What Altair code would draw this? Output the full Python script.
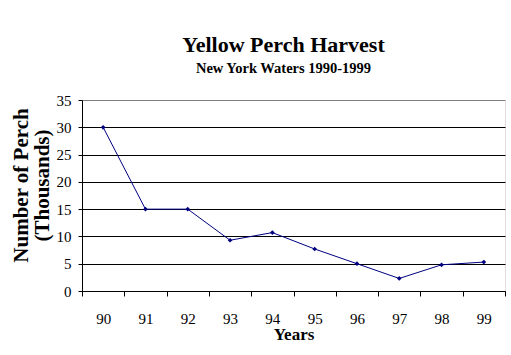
import altair as alt
import pandas as pd

years = ["90", "91", "92", "93", "94", "95", "96", "97", "98", "99"]
harvest = [30.0, 15.0, 15.0, 9.3, 10.7, 7.7, 5.0, 2.3, 4.8, 5.3]
y_ticks = [0, 5, 10, 15, 20, 25, 30, 35]

df = pd.DataFrame({"Year": years, "Harvest": harvest})

FONT = "Liberation Serif"
NAVY = "#000080"

chart = alt.Chart(df).mark_line(
    color=NAVY, strokeWidth=1,
    point=alt.OverlayMarkDef(shape="diamond", size=22, filled=True, color=NAVY),
).encode(
    x=alt.X("Year:N", sort=years,
            scale=alt.Scale(paddingInner=0, paddingOuter=0),
            axis=alt.Axis(title="Years", labelAngle=0, tickBand="extent",
                          grid=False, domainColor="black", tickColor="black",
                          tickSize=5, labelFont=FONT, labelFontSize=15,
                          labelColor="black", labelBaseline="alphabetic",
                          labelPadding=27, titleFont=FONT, titleFontSize=17,
                          titleFontWeight="bold", titleColor="black",
                          titleBaseline="alphabetic", titleY=48)),
    y=alt.Y("Harvest:Q",
            scale=alt.Scale(domain=[0, 35], nice=False),
            axis=alt.Axis(title=["Number of Perch", "(Thousands)"],
                          values=y_ticks, grid=True,
                          gridColor={"condition": {"test": "datum.value == 35", "value": "#808080"}, "value": "black"},
                          gridOpacity=1, domainColor="black", tickColor="black",
                          tickSize=4, labelPadding=7, labelFont=FONT,
                          labelFontSize=15, labelColor="black",
                          titleFont=FONT, titleFontSize=21, titleFontWeight="bold",
                          titleColor="black", titleAngle=-90, titleAlign="center",
                          titleBaseline="middle", titleX=-61, titleY=85,
                          titleLineHeight=21)),
).properties(
    width=423, height=191,
    title=alt.TitleParams(
        text="Yellow Perch Harvest",
        subtitle="New York Waters 1990-1999",
        font=FONT, fontSize=22, fontWeight="bold", color="black",
        subtitleFont=FONT, subtitleFontSize=14.5, subtitleFontWeight="bold",
        subtitleColor="black", subtitlePadding=5,
        anchor="middle", frame="group", dx=-10, offset=17,
    ),
    autosize=alt.AutoSizeParams(type="none"),
    padding={"left": 82, "top": 100, "right": 6, "bottom": 64},
).configure_view(stroke="#808080", strokeWidth=1).configure(background="white")

chart.save("out.html", embed_options={"renderer": "svg", "actions": False})
